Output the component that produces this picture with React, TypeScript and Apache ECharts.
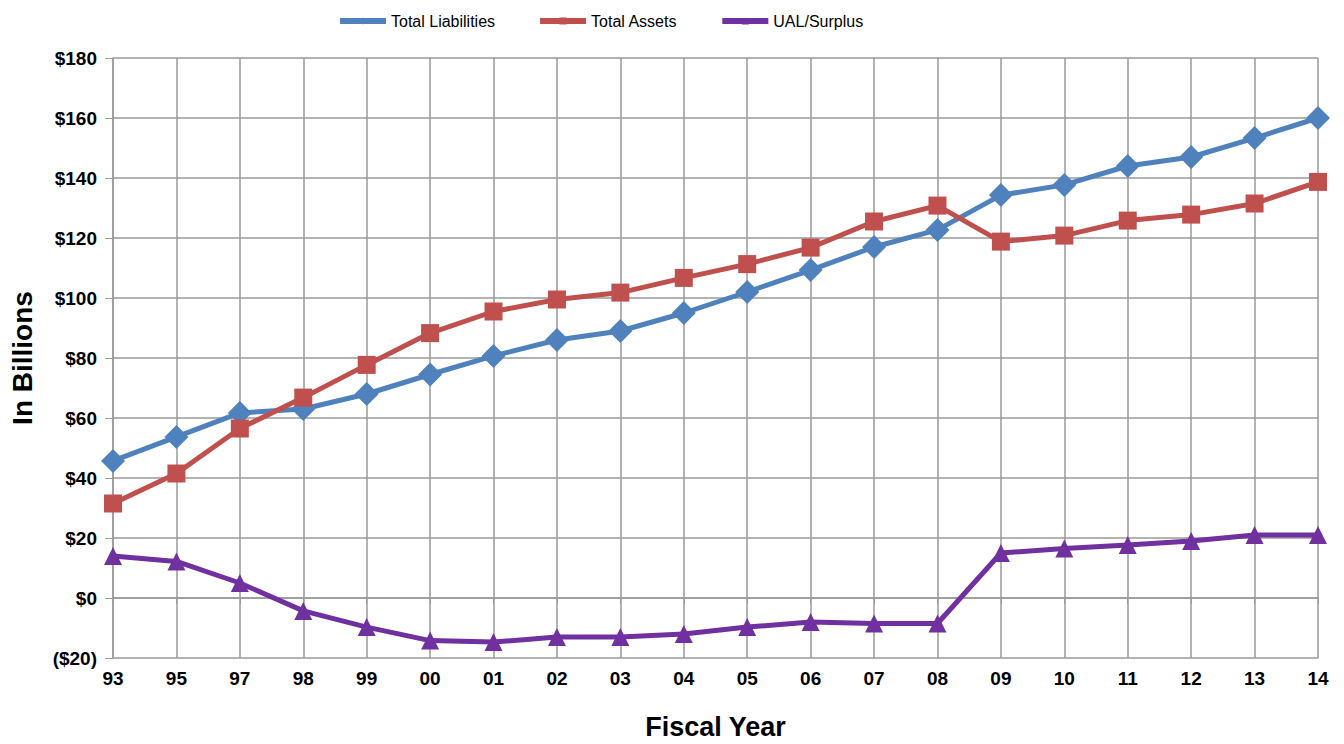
import React, { useEffect, useRef } from "react";
import * as echarts from "echarts";

const fiscalYears = ["93", "95", "97", "98", "99", "00", "01", "02", "03", "04", "05", "06", "07", "08", "09", "10", "11", "12", "13", "14"];

const totalLiabilities = [45.7, 53.7, 61.7, 63, 68, 74.5, 80.7, 86, 89, 95, 102, 109.3, 117, 122.7, 134.3, 137.7, 144, 147, 153.3, 160];
const totalAssets = [31.5, 41.5, 56.5, 66.8, 77.7, 88.3, 95.5, 99.5, 101.8, 106.7, 111.3, 116.8, 125.5, 130.8, 118.8, 120.8, 125.8, 127.8, 131.5, 138.7];
const ualSurplus = [14, 12.2, 5, -4.3, -9.7, -14.2, -14.7, -13, -13, -12, -9.7, -8, -8.5, -8.5, 15, 16.5, 17.7, 19, 21, 21];

const yTicks = { min: -20, max: 180, interval: 20 };

const formatDollars = (v: number) => (v < 0 ? `($${-v})` : `$${v}`);

export default function App() {
  const ref = useRef<HTMLDivElement>(null);

  useEffect(() => {
    document.body.style.margin = "0";
    if (!ref.current) return;
    const chart = echarts.init(ref.current, null, { renderer: "svg" });
    const gridColor = "#9a9a9a";
    const labelFont = { fontFamily: "Liberation Sans, Arial, sans-serif", fontWeight: "bold" as const, color: "#000" };

    const lineSeries = (name: string, data: number[], color: string, symbol: string, size: number) => ({
      name,
      type: "line",
      data,
      symbol,
      symbolSize: size,
      lineStyle: { color, width: 5 },
      itemStyle: { color },
      z: 3,
    });

    chart.setOption({
      animation: false,
      backgroundColor: "#fff",
      legend: {
        top: 8,
        left: 332,
        itemGap: 42,
        itemWidth: 46,
        itemHeight: 9,
        lineStyle: { width: 6 },
        textStyle: { fontFamily: "Liberation Sans Narrow, Arial Narrow, Liberation Sans, sans-serif", fontSize: 16, color: "#000" },
        data: ["Total Liabilities", "Total Assets", "UAL/Surplus"],
      },
      grid: { left: 113, right: 26, top: 58, bottom: 86, containLabel: false, outerBoundsMode: "none" },
      xAxis: {
        type: "category",
        data: fiscalYears,
        boundaryGap: false,
        name: "Fiscal Year",
        nameLocation: "middle",
        nameGap: 55,
        nameTextStyle: { ...labelFont, fontSize: 27 },
        axisLine: { lineStyle: { color: gridColor, width: 1.5 } },
        axisTick: { show: true, length: 6, lineStyle: { color: gridColor } },
        axisLabel: { ...labelFont, fontSize: 19, margin: 11 },
        splitLine: { show: true, lineStyle: { color: gridColor, width: 1.5 } },
      },
      yAxis: {
        type: "value",
        min: yTicks.min,
        max: yTicks.max,
        interval: yTicks.interval,
        name: "In Billions",
        nameLocation: "middle",
        nameGap: 77,
        nameTextStyle: { ...labelFont, fontSize: 28 },
        axisLine: { show: true, lineStyle: { color: gridColor, width: 1.5 } },
        axisTick: { show: true, length: 8, lineStyle: { color: gridColor } },
        axisLabel: { ...labelFont, fontSize: 19, margin: 16, formatter: formatDollars },
        splitLine: { show: true, lineStyle: { color: gridColor, width: 1.5 } },
      },
      series: [
        lineSeries("Total Liabilities", totalLiabilities, "#4F81BD", "diamond", 24),
        lineSeries("Total Assets", totalAssets, "#C0504D", "rect", 18),
        lineSeries("UAL/Surplus", ualSurplus, "#7030A0", "triangle", 18),
      ],
    });
    return () => chart.dispose();
  }, []);

  return <div ref={ref} style={{ width: 1344, height: 744 }} />;
}
